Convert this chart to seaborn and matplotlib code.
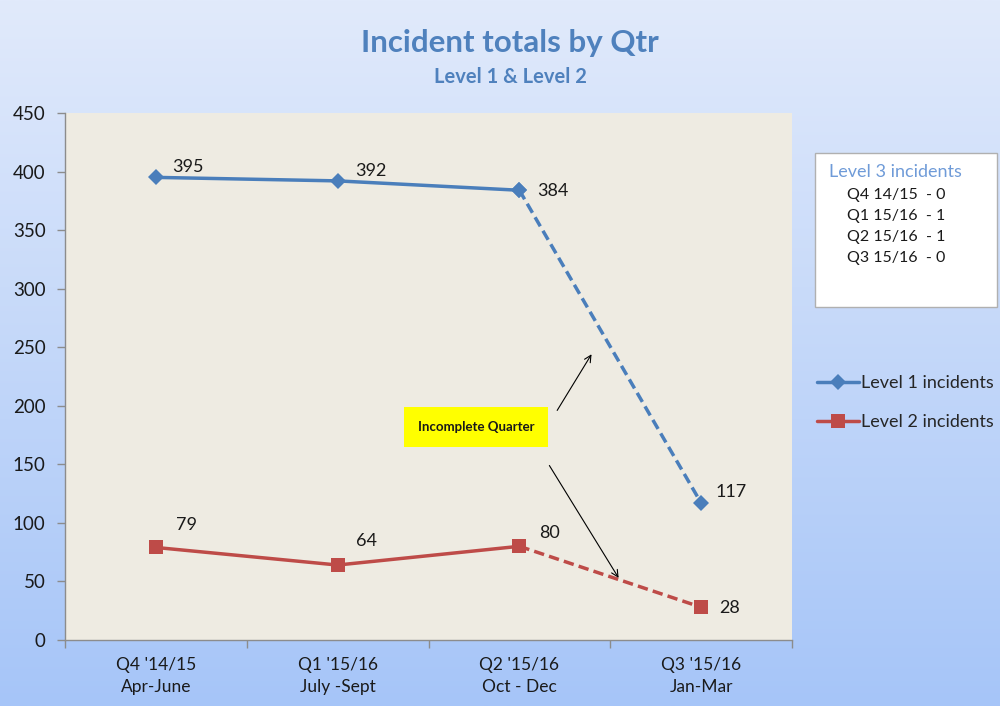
import numpy as np
import pandas as pd
import matplotlib
matplotlib.use("Agg")
import matplotlib.pyplot as plt
import seaborn as sns

# dane z wykresu
quarters = ["Q4 '14/15\nApr-June", "Q1 '15/16\nJuly -Sept", "Q2 '15/16\nOct - Dec", "Q3 '15/16\nJan-Mar"]
level1 = [395, 392, 384, 117]
level2 = [79, 64, 80, 28]
level3_lines = ["Q4 14/15  - 0", "Q1 15/16  - 1", "Q2 15/16  - 1", "Q3 15/16  - 0"]

blue = "#4a7ebb"
red = "#be4b48"

sns.set_theme(style="white")
plt.rcParams["font.family"] = ["Lato", "DejaVu Sans"]

df = pd.DataFrame({
    "idx": list(range(4)) * 2,
    "value": level1 + level2,
    "series": ["Level 1 incidents"] * 4 + ["Level 2 incidents"] * 4,
})

fig = plt.figure(figsize=(10, 7.06), dpi=100)

# tlo z gradientem
bg = fig.add_axes([0, 0, 1, 1], zorder=-10)
top = np.array([225, 234, 251]) / 255
bot = np.array([166, 197, 248]) / 255
t = np.linspace(0, 1, 256)[:, None]
grad = top[None, :] * (1 - t) + bot[None, :] * t
bg.imshow(grad[:, None, :], aspect="auto", extent=[0, 1, 0, 1])
bg.axis("off")

ax = fig.add_axes([0.065, 0.0935, 0.727, 0.7465])
ax.set_facecolor("#eeebe2")

palette = {"Level 1 incidents": blue, "Level 2 incidents": red}
markers = {"Level 1 incidents": "D", "Level 2 incidents": "s"}
msize = {"Level 1 incidents": 8, "Level 2 incidents": 10}

solid = df[df["idx"] <= 2]
dashed = df[df["idx"] >= 2]

for name, color in palette.items():
    d = solid[solid["series"] == name]
    sns.lineplot(data=d, x="idx", y="value", color=color, linewidth=2.5,
                 marker=markers[name], markersize=msize[name], markeredgewidth=0,
                 ax=ax, label=name)
    d = dashed[dashed["series"] == name]
    sns.lineplot(data=d, x="idx", y="value", color=color, linewidth=2.5,
                 linestyle=(0, (3, 1.5)), marker=markers[name], markersize=msize[name],
                 markeredgewidth=0, ax=ax, legend=False)

# etykiety danych
offs1 = [(16, 10), (18, 10), (18, -1), (14, 11)]
offs2 = [(20, 22), (18, 24), (20, 13), (18, -1)]
for i, (v, o) in enumerate(zip(level1, offs1)):
    ax.annotate(str(v), (i, v), xytext=o, textcoords="offset pixels",
                fontsize=13, color="#1a1a1a", va="center")
for i, (v, o) in enumerate(zip(level2, offs2)):
    ax.annotate(str(v), (i, v), xytext=o, textcoords="offset pixels",
                fontsize=13, color="#1a1a1a", va="center")

# adnotacja
ax.text(1.76, 182, "Incomplete Quarter", fontsize=9.5, fontweight="bold",
        color="#1a1a1a", ha="center", va="center",
        bbox=dict(boxstyle="square,pad=1.05", fc="#ffff00", ec="none"))
ax.annotate("", xy=(2.405, 246), xytext=(2.20, 194),
            arrowprops=dict(arrowstyle="->", color="black", lw=0.8))
ax.annotate("", xy=(2.554, 51), xytext=(2.157, 151),
            arrowprops=dict(arrowstyle="->", color="black", lw=0.8))

ax.set_xlim(-0.5, 3.5)
ax.set_ylim(0, 450)
ax.set_yticks(range(0, 451, 50))
ax.set_xticks([-0.5, 0.5, 1.5, 2.5, 3.5])
ax.set_xticklabels([])
ax.set_xticks(range(4), minor=True)
ax.set_xticklabels(quarters, minor=True, fontsize=12.5, color="#1a1a1a", linespacing=1.45)
ax.tick_params(axis="x", which="major", length=6, width=1, color="#8c8c8c", direction="out", bottom=True)
ax.tick_params(axis="x", which="minor", length=0, pad=12)
ax.tick_params(axis="y", length=6, width=1, color="#8c8c8c", direction="out", left=True, labelsize=13.5, labelcolor="#1a1a1a", pad=8)
ax.set_xlabel("")
ax.set_ylabel("")
for s in ["top", "right"]:
    ax.spines[s].set_visible(False)
for s in ["left", "bottom"]:
    ax.spines[s].set_color("#8c8c8c")
    ax.spines[s].set_linewidth(1)

leg = ax.legend(loc="upper left", bbox_to_anchor=(0.817, 1 - 375 / 706), bbox_transform=fig.transFigure,
                frameon=False, fontsize=13, handlelength=2.3, handletextpad=0.15,
                labelspacing=1.3, borderaxespad=0, borderpad=0)
for line in leg.get_lines():
    line.set_linewidth(2.5)

# tytul
fig.text(0.51, 1 - 43 / 706, "Incident totals by Qtr", ha="center", va="center",
         fontsize=22.5, fontweight="bold", color="#4f81bd")
fig.text(0.51, 1 - 77 / 706, "Level 1 & Level 2", ha="center", va="center",
         fontsize=14.5, fontweight="bold", color="#4f81bd")

# pole Level 3
box = plt.Rectangle((0.815, 1 - 307 / 706), 0.182, 154 / 706, transform=fig.transFigure,
                    fc="white", ec="#b0b0b0", lw=1, zorder=5)
fig.patches.append(box)
fig.text(0.829, 1 - 172 / 706, "Level 3 incidents", fontsize=13, color="#6f9bd8",
         va="center", zorder=6)
for k, s in enumerate(level3_lines):
    fig.text(0.847, 1 - (195 + 21 * k) / 706, s, fontsize=11.5, color="#1a1a1a",
             va="center", zorder=6)

fig.savefig("out.png", dpi=100)
